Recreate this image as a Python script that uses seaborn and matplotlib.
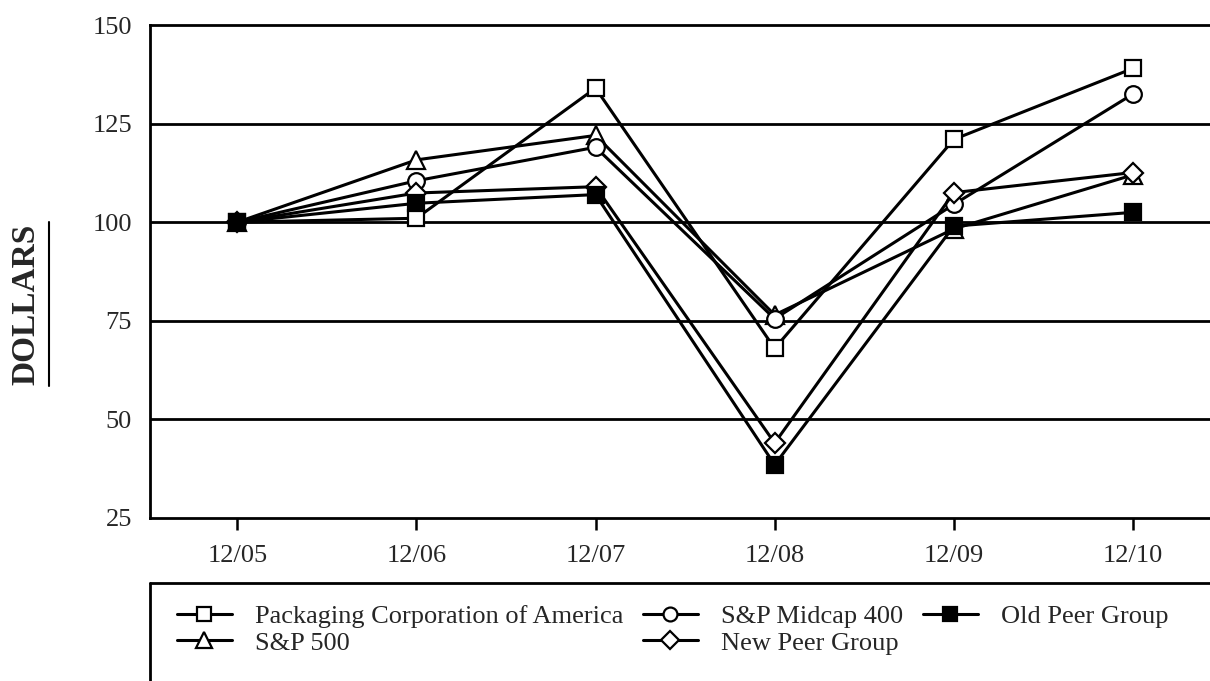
import numpy as np
import pandas as pd
import seaborn as sns
import matplotlib.pyplot as plt
from matplotlib.lines import Line2D

# valores
periodos = ["12/05", "12/06", "12/07", "12/08", "12/09", "12/10"]
pca = [100, 101, 134, 68, 121, 139]
midcap = [100, 110.5, 119, 75.5, 104.5, 132.5]
sp500 = [100, 115.8, 122, 76.5, 98.3, 112]
old_peer = [100, 104.8, 107, 38.5, 99, 102.5]
new_peer = [100, 107.4, 109, 44, 107.5, 112.6]

series = [
    ("Packaging Corporation of America", pca, "s", "white"),
    ("S&P 500", sp500, "^", "white"),
    ("S&P Midcap 400", midcap, "o", "white"),
    ("New Peer Group", new_peer, "D", "white"),
    ("Old Peer Group", old_peer, "s", "black"),
]

sns.set_style("white")
plt.rcParams['font.family'] = ['Liberation Serif', 'DejaVu Serif']

fig = plt.figure(figsize=(12.1, 6.81), dpi=100)
ax = fig.add_axes([150 / 1210, 1 - 518 / 681, 1 - 150 / 1210, (518 - 25) / 681])

x = np.arange(len(periodos))
orden_dibujo = [4, 3, 1, 2, 0]
for i in orden_dibujo:
    nombre, valores, marcador, relleno = series[i]
    ms = {"s": 12, "o": 12, "^": 13, "D": 10}[marcador]
    sns.lineplot(x=x, y=valores, ax=ax, color="black", linewidth=2.2,
                 marker=marcador, markersize=ms, markerfacecolor=relleno,
                 markeredgecolor="black", markeredgewidth=1.6, zorder=3 + i)

for yv in [50, 75, 100, 125]:
    ax.axhline(yv, color="black", linewidth=2, zorder=1)

ax.set_xlim(-0.487, 5.43)
ax.set_ylim(25, 150)
ax.set_xticks(x)
ax.set_xticklabels(periodos)
ax.set_yticks([25, 50, 75, 100, 125, 150])
ax.tick_params(axis="x", direction="out", length=8.5, width=1.8, pad=11,
               labelsize=19, bottom=True, color="black")
ax.tick_params(axis="y", length=0, pad=13, labelsize=19)
for lado in ["left", "bottom", "top"]:
    ax.spines[lado].set_visible(True)
    ax.spines[lado].set_color("black")
    ax.spines[lado].set_linewidth(2)
ax.spines["right"].set_visible(False)

ax.set_ylabel("")
fig.text(26 / 1210, 1 - 304 / 681, "DOLLARS", rotation=90, fontweight="bold",
         ha="center", va="center", fontsize=24)
# subrayado del titulo del eje
fig.add_artist(Line2D([49 / 1210, 49 / 1210], [1 - 386 / 681, 1 - 222 / 681],
                      transform=fig.transFigure, color="black", linewidth=1.5))

# caja de la leyenda
fig.add_artist(Line2D([150 / 1210, 1], [1 - 583 / 681, 1 - 583 / 681],
                      transform=fig.transFigure, color="black", linewidth=2))
fig.add_artist(Line2D([150 / 1210, 150 / 1210], [0, 1 - 583 / 681],
                      transform=fig.transFigure, color="black", linewidth=2))

handles = []
for nombre, valores, marcador, relleno in series:
    ms = {"s": 10, "o": 10, "^": 11, "D": 9}[marcador]
    handles.append(Line2D([], [], color="black", linewidth=2.2, marker=marcador,
                          markersize=ms, markerfacecolor=relleno,
                          markeredgecolor="black", markeredgewidth=1.6,
                          label=nombre))
fig.legend(handles=handles, ncol=3, loc="upper left",
           bbox_to_anchor=(177 / 1210, 1 - 605 / 681), frameon=False,
           fontsize=19, handlelength=2.08, handletextpad=0.87,
           columnspacing=0.75, labelspacing=0.1, borderaxespad=0,
           borderpad=0)

fig.savefig("out.png", dpi=100)
